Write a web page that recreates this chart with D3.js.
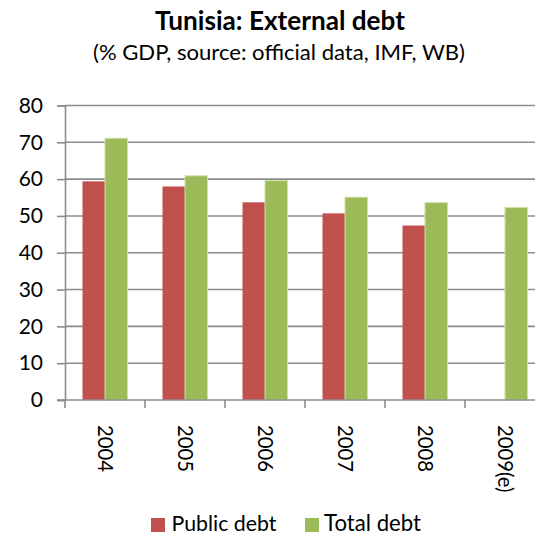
<!DOCTYPE html>
<html>
<head>
<meta charset="utf-8">
<script src="https://cdn.jsdelivr.net/npm/d3@7"></script>
<style>
  html, body { margin: 0; padding: 0; background: #fff; }
  svg { display: block; }
  text { font-family: Lato, "Open Sans", sans-serif; fill: #000; }
</style>
</head>
<body>
<svg id="chart" width="535" height="535"></svg>
<script>
const categories = ["2004", "2005", "2006", "2007", "2008", "2009(e)"];
const publicDebt = [59.4, 58.0, 53.7, 50.7, 47.4, null];
const totalDebt = [71.1, 60.9, 59.6, 55.1, 53.6, 52.3];
const seriesNames = ["Public debt", "Total debt"];
const seriesColors = ["#C0504D", "#9BBB59"];
const yTicks = [0, 10, 20, 30, 40, 50, 60, 70, 80];
const titleText = "Tunisia: External debt";
const subtitleText = "(% GDP, source: official data, IMF, WB)";

const svg = d3.select("#chart");
const W = 535, H = 535;
const plot = { left: 65, right: 545, top: 105.5, bottom: 400 };

function fit(sel, target) {
  const base = parseFloat(sel.attr("font-size"));
  const w = sel.node().getComputedTextLength();
  sel.attr("font-size", (base * target / w).toFixed(2));
}

// Title
const t = svg.append("text").attr("x", 280).attr("y", 30).attr("text-anchor", "middle")
  .attr("font-size", 20).attr("font-weight", "bold").text(titleText);
fit(t, 250);
const st = svg.append("text").attr("x", 279).attr("y", 60).attr("text-anchor", "middle")
  .attr("font-size", 18).text(subtitleText);
fit(st, 372);

const x = d3.scaleBand().domain(categories).range([plot.left, plot.right]).paddingInner(0).paddingOuter(0);
const y = d3.scaleLinear().domain([0, 80]).range([plot.bottom, plot.top]);

// Gridlines
svg.append("g").selectAll("line").data(yTicks.filter(d => d > 0)).join("line")
  .attr("x1", plot.left).attr("x2", W)
  .attr("y1", d => y(d)).attr("y2", d => y(d))
  .attr("stroke", "#8c8c8c").attr("stroke-width", 1.6);

// Y axis
const yAxis = d3.axisLeft(y).tickValues(yTicks).tickSize(8).tickPadding(14).tickFormat(d3.format("d"));
const gy = svg.append("g").attr("transform", `translate(${plot.left},0)`).call(yAxis);
gy.select(".domain").attr("stroke", "#8c8c8c").attr("stroke-width", 1.6);
gy.selectAll(".tick line").attr("stroke", "#8c8c8c").attr("stroke-width", 1.6);
gy.selectAll(".tick text").attr("font-size", 21).attr("font-family", "Lato, sans-serif").attr("fill", "#000");

// Bars
const groupW = 45, barW = 22.5;
const data = categories.map((c, i) => ({ c, vals: [publicDebt[i], totalDebt[i]] }));
const g = svg.append("g");
data.forEach(d => {
  d.vals.forEach((v, j) => {
    if (v == null) return;
    const x0 = x(d.c) + (x.bandwidth() - groupW) / 2 + j * barW;
    g.append("rect")
      .attr("x", x0).attr("width", barW)
      .attr("y", y(v)).attr("height", y(0) - y(v))
      .attr("fill", seriesColors[j])
      .attr("stroke", j === 1 ? "#cfe0a8" : "none").attr("stroke-width", j === 1 ? 1 : 0);
  });
});

// X axis line and category ticks
svg.append("line").attr("x1", plot.left - 8).attr("x2", W).attr("y1", plot.bottom).attr("y2", plot.bottom)
  .attr("stroke", "#8c8c8c").attr("stroke-width", 1.6);
svg.append("g").selectAll("line").data(categories).join("line")
  .attr("x1", d => x(d)).attr("x2", d => x(d))
  .attr("y1", plot.bottom).attr("y2", plot.bottom + 8)
  .attr("stroke", "#8c8c8c").attr("stroke-width", 1.6);

// X labels rotated
const xl = svg.append("g").selectAll("text").data(categories).join("text")
  .attr("transform", d => `translate(${x(d) + x.bandwidth() / 2 - 7},425) rotate(90)`)
  .attr("text-anchor", "start")
  .attr("font-size", 20)
  .text(d => d);
fit(d3.select(xl.nodes()[0]), 47);
xl.attr("font-size", d3.select(xl.nodes()[0]).attr("font-size"));

// Legend
const legend = [
  { name: seriesNames[0], color: seriesColors[0], sx: 151, tx: 171.5, w: 105 },
  { name: seriesNames[1], color: seriesColors[1], sx: 305, tx: 324, w: 97 }
];
const lg = svg.append("g");
legend.forEach(l => {
  lg.append("rect").attr("x", l.sx).attr("y", 518).attr("width", 14).attr("height", 14).attr("fill", l.color);
  const tt = lg.append("text").attr("x", l.tx).attr("y", 531).attr("font-size", 20).text(l.name);
  fit(tt, l.w);
});
</script>
</body>
</html>
